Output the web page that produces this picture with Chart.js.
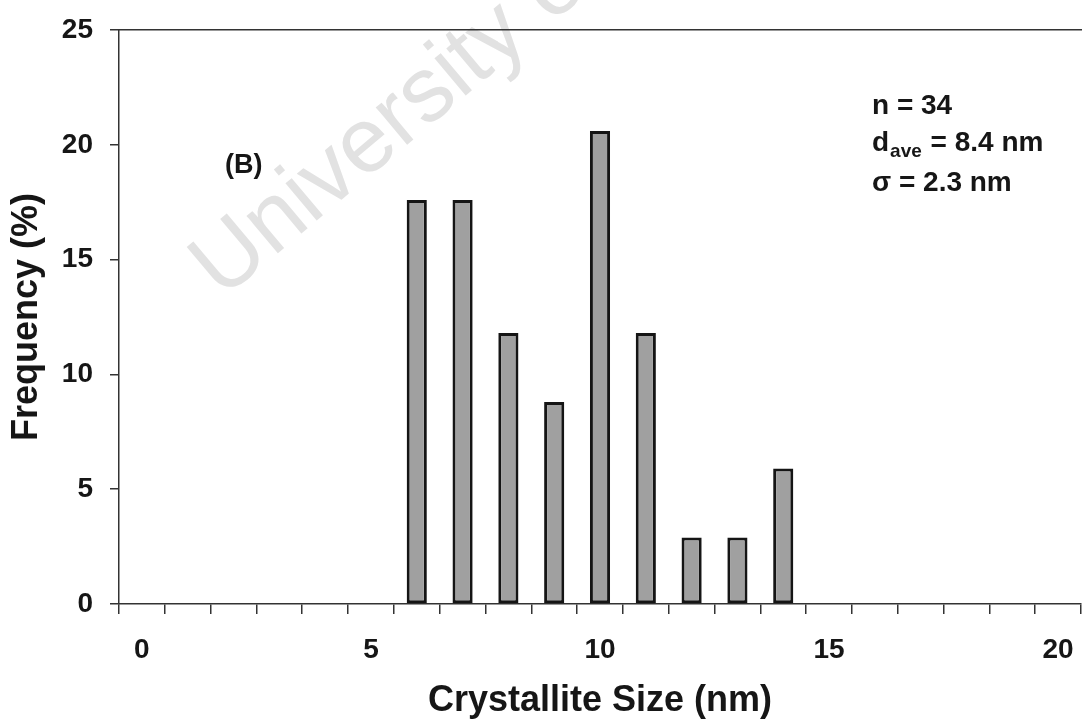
<!DOCTYPE html>
<html>
<head>
<meta charset="utf-8">
<title>Crystallite size distribution</title>
<script src="https://cdn.jsdelivr.net/npm/chart.js@4.4.1/dist/chart.umd.min.js"></script>
<style>
  html, body { margin: 0; padding: 0; background: #ffffff; }
  #wrap { width: 1083px; height: 724px; position: relative; }
</style>
</head>
<body>
<div id="wrap"><canvas id="hist"></canvas></div>
<script>
// Size classes (nm) along the x axis
const sizes = ['0','1','2','3','4','5','6','7','8','9','10','11','12','13','14','15','16','17','18','19','20'];
// Frequency (%) of particles in each size class, n = 34
const frequency = [0, 0, 0, 0, 0, 0, 17.6, 17.6, 11.8, 8.8, 20.6, 11.8, 2.9, 2.9, 5.9, 0, 0, 0, 0, 0, 0];
// Labelled ticks
const xTickLabels = ['0', '5', '10', '15', '20'];
const yTicks = [0, 5, 10, 15, 20, 25];

const FONT = "'Liberation Sans', Arial, Helvetica, sans-serif";
const INK = '#161616';
const AXIS = '#333333';

// Faint diagonal watermark behind the plot
const watermark = {
  id: 'watermark',
  beforeDraw(chart) {
    const ctx = chart.ctx;
    ctx.save();
    ctx.translate(222, 300);
    ctx.rotate(-40 * Math.PI / 180);
    ctx.font = '92px ' + FONT;
    ctx.fillStyle = '#e2e2e2';
    ctx.textBaseline = 'alphabetic';
    ctx.fillText('University of Cape Town', 0, 0);
    ctx.restore();
  }
};

// Panel letter and summary statistics
const notes = {
  id: 'notes',
  afterDraw(chart) {
    const {ctx, chartArea: a} = chart;
    ctx.save();
    ctx.fillStyle = INK;
    ctx.textBaseline = 'alphabetic';
    ctx.textAlign = 'left';

    ctx.font = 'bold 27px ' + FONT;
    ctx.fillText('(B)', a.left + 106, a.top + 143);

    const x0 = a.left + 753;
    ctx.font = 'bold 28px ' + FONT;
    ctx.fillText('n = 34', x0, a.top + 84);

    ctx.fillText('d', x0, a.top + 121);
    let x = x0 + ctx.measureText('d').width + 1;
    ctx.font = 'bold 19px ' + FONT;
    ctx.fillText('ave', x, a.top + 127);
    x += ctx.measureText('ave').width + 1;
    ctx.font = 'bold 28px ' + FONT;
    ctx.fillText(' = 8.4 nm', x, a.top + 121);

    ctx.fillText('\u03c3 = 2.3 nm', x0, a.top + 161);
    ctx.restore();
  }
};

new Chart(document.getElementById('hist'), {
  type: 'bar',
  data: {
    labels: sizes,
    datasets: [{
      data: frequency.map(v => (v > 0 ? v : null)),
      backgroundColor: '#a0a0a0',
      borderColor: '#151515',
      borderWidth: 3,
      borderSkipped: false,
      barPercentage: 0.44,
      categoryPercentage: 1.0
    }]
  },
  options: {
    responsive: true,
    maintainAspectRatio: false,
    animation: false,
    events: [],
    layout: { padding: { top: 30, right: 2, left: 0, bottom: 0 } },
    plugins: {
      legend: { display: false },
      tooltip: { enabled: false }
    },
    scales: {
      x: {
        type: 'category',
        position: 'bottom',
        offset: true,
        grid: {
          offset: true,
          drawOnChartArea: false,
          drawTicks: true,
          tickLength: 10,
          color: AXIS,
          lineWidth: 1.5
        },
        border: { display: true, color: AXIS, width: 1.5 },
        ticks: {
          autoSkip: false,
          maxRotation: 0,
          minRotation: 0,
          padding: 19,
          color: INK,
          font: { family: FONT, size: 28, weight: 'bold' },
          callback(value, index) {
            const lbl = sizes[index];
            return xTickLabels.includes(lbl) ? lbl : '';
          }
        },
        title: {
          display: true,
          text: 'Crystallite Size (nm)',
          color: INK,
          font: { family: FONT, size: 36, weight: 'bold' },
          padding: { top: 0, bottom: 1 }
        },
        afterFit(scale) {
          scale.height = 120;
          scale.paddingLeft = 0;
          scale.paddingRight = 0;
        }
      },
      x2: {
        type: 'category',
        position: 'top',
        grid: { display: false },
        ticks: { display: false },
        border: { display: true, color: AXIS, width: 1.5 },
        afterFit(scale) {
          scale.height = 0;
          scale.paddingLeft = 0;
          scale.paddingRight = 0;
        }
      },
      y: {
        type: 'linear',
        position: 'left',
        min: 0,
        max: 25,
        afterBuildTicks(scale) { scale.ticks = yTicks.map(v => ({ value: v })); },
        grid: {
          drawOnChartArea: false,
          drawTicks: true,
          tickLength: 9,
          color: AXIS,
          lineWidth: 1.5
        },
        border: { display: true, color: AXIS, width: 1.5 },
        ticks: {
          padding: 17,
          color: INK,
          font: { family: FONT, size: 28, weight: 'bold' }
        },
        title: {
          display: true,
          text: 'Frequency (%)',
          color: INK,
          font: { family: FONT, size: 36, weight: 'bold' },
          padding: { top: 5, bottom: 0 }
        },
        afterFit(scale) {
          scale.width = 119;
          scale.paddingTop = 0;
          scale.paddingBottom = 0;
        }
      }
    }
  },
  plugins: [watermark, notes]
});
</script>
</body>
</html>
